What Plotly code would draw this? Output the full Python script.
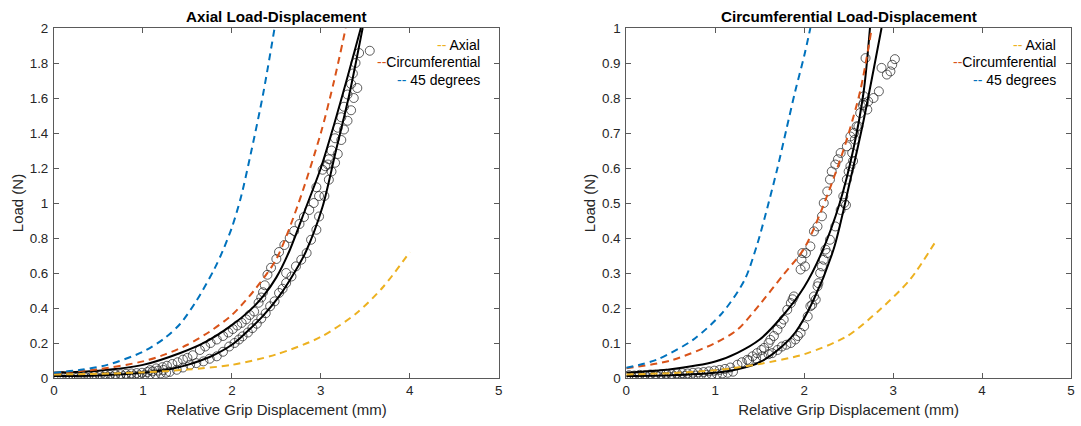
import plotly.graph_objects as go

# ---------------- Axial test (left panel) ----------------
ax_axial_x = [0, 0.5, 1.0, 1.5, 2.0, 2.5, 3.0, 3.4, 3.7, 4.0]
ax_axial_y = [0.02, 0.024, 0.032, 0.048, 0.075, 0.135, 0.235, 0.37, 0.52, 0.72]

ax_circ_x = [0, 0.5, 1.0, 1.25, 1.5, 1.75, 2.0, 2.25, 2.5, 2.75, 3.0, 3.15, 3.28]
ax_circ_y = [0.03, 0.05, 0.095, 0.135, 0.19, 0.265, 0.36, 0.5, 0.68, 1.0, 1.4, 1.7, 2.0]

ax_45_x = [0, 0.3, 0.6, 1.0, 1.25, 1.42, 1.6, 1.8, 1.9, 2.0, 2.1, 2.22, 2.35, 2.48]
ax_45_y = [0.03, 0.047, 0.075, 0.15, 0.23, 0.31, 0.44, 0.62, 0.73, 0.86, 1.03, 1.3, 1.62, 2.0]

ax_fitA_x = [0, 0.5, 1.0, 1.42, 1.7, 1.98, 2.2, 2.35, 2.5, 2.65, 2.83, 3.0, 3.15, 3.3, 3.45]
ax_fitA_y = [0.03, 0.042, 0.075, 0.143, 0.205, 0.295, 0.385, 0.466, 0.575, 0.73, 0.97, 1.2, 1.45, 1.72, 2.0]

ax_fitB_x = [0, 0.5, 1.0, 1.3, 1.5, 1.75, 2.0, 2.16, 2.35, 2.53, 2.7, 2.83, 3.02, 3.17, 3.32, 3.47]
ax_fitB_y = [0.012, 0.015, 0.03, 0.05, 0.075, 0.12, 0.19, 0.26, 0.355, 0.466, 0.6, 0.72, 0.98, 1.3, 1.62, 2.0]

ax_band_x = [0.05, 0.12, 0.18, 0.25, 0.3, 0.36, 0.42, 0.48, 0.55, 0.6, 0.66, 0.72, 0.78,
             0.84, 0.9, 0.96, 1.02, 1.08, 1.14, 1.2, 1.26,
             0.09, 0.16, 0.22, 0.28, 0.33, 0.39, 0.45, 0.52, 0.58, 0.63, 0.69, 0.75, 0.81,
             0.87, 0.93, 0.99, 1.05, 1.11, 1.17, 1.23]
ax_band_y = [0.005, 0.003, 0.002, 0.003, 0.004, 0.004, 0.005, 0.005, 0.006, 0.007, 0.008,
             0.009, 0.01, 0.012, 0.013, 0.015, 0.017, 0.02, 0.022, 0.026, 0.03,
             0.012, 0.01, 0.009, 0.011, 0.012, 0.013, 0.014, 0.016, 0.017, 0.018, 0.02,
             0.022, 0.024, 0.026, 0.028, 0.03, 0.034, 0.038, 0.042, 0.046]

ax_up_x = [1.08, 1.15, 1.22, 1.27, 1.33, 1.39, 1.45, 1.5, 1.56, 1.64, 1.7, 1.76, 1.83,
           1.9, 1.96, 2.01, 2.06, 2.11, 2.16, 2.2, 2.25, 2.3, 2.33, 2.35, 2.37, 2.4,
           2.44, 2.5, 2.53, 2.59, 2.65, 2.7, 2.76, 2.81, 2.87, 2.92, 2.95, 2.98, 3.02,
           3.05, 3.08, 3.09, 3.12, 3.16, 3.19, 3.23, 3.26, 3.3, 3.34, 3.36, 3.39, 3.43,
           3.55]
ax_up_y = [0.045, 0.055, 0.062, 0.07, 0.08, 0.09, 0.105, 0.115, 0.13, 0.16, 0.18, 0.2,
           0.22, 0.24, 0.26, 0.28, 0.3, 0.315, 0.335, 0.36, 0.38, 0.43, 0.46, 0.49, 0.53,
           0.59, 0.63, 0.68, 0.72, 0.76, 0.8, 0.84, 0.88, 0.92, 0.96, 1.0, 1.09, 1.04,
           1.19, 1.21, 1.22, 1.25, 1.3, 1.37, 1.43, 1.49, 1.55, 1.62, 1.68, 1.74, 1.8,
           1.857, 1.87]

ax_dn_x = [1.3, 1.38, 1.45, 1.53, 1.6, 1.68, 1.75, 1.83, 1.9, 1.97, 2.03, 2.08, 2.12,
           2.18, 2.23, 2.28, 2.33, 2.38, 2.43, 2.48, 2.53, 2.57, 2.61, 2.61, 2.67, 2.72,
           2.78, 2.84, 2.89, 2.95, 2.98, 3.04, 3.09, 3.12, 3.16, 3.19, 3.23, 3.26, 3.3,
           3.34, 3.37, 3.41]
ax_dn_y = [0.035, 0.047, 0.06, 0.076, 0.085, 0.095, 0.11, 0.124, 0.15, 0.18, 0.2, 0.22,
           0.238, 0.26, 0.285, 0.31, 0.34, 0.37, 0.41, 0.438, 0.486, 0.51, 0.543, 0.6,
           0.58, 0.638, 0.676, 0.714, 0.79, 0.847, 0.923, 1.04, 1.133, 1.18, 1.23, 1.28,
           1.36, 1.42, 1.47, 1.53, 1.6, 1.657]

# ---------------- Circumferential test (right panel) ----------------
ci_axial_x = [0, 0.5, 1.0, 1.25, 1.5, 2.0, 2.48, 2.85, 3.19, 3.49]
ci_axial_y = [0.01, 0.014, 0.022, 0.03, 0.04, 0.068, 0.119, 0.195, 0.281, 0.395]

ci_circ_x = [0, 0.5, 1.0, 1.25, 1.5, 1.75, 2.0, 2.18, 2.44, 2.63, 2.76]
ci_circ_y = [0.028, 0.05, 0.1, 0.138, 0.21, 0.29, 0.37, 0.47, 0.65, 0.82, 1.0]

ci_45_x = [0, 0.34, 0.75, 1.08, 1.33, 1.47, 1.6, 1.7, 1.8, 1.9, 2.0, 2.07]
ci_45_y = [0.029, 0.052, 0.109, 0.186, 0.28, 0.38, 0.5, 0.6, 0.71, 0.82, 0.92, 1.0]

ci_fitA_x = [0, 0.5, 1.0, 1.25, 1.5, 1.75, 2.0, 2.2, 2.4, 2.55, 2.67, 2.74]
ci_fitA_y = [0.015, 0.025, 0.047, 0.072, 0.11, 0.175, 0.26, 0.36, 0.5, 0.65, 0.82, 1.0]

ci_fitB_x = [0, 0.5, 1.0, 1.25, 1.5, 1.75, 1.9, 2.1, 2.33, 2.52, 2.67, 2.78, 2.87]
ci_fitB_y = [0.006, 0.008, 0.015, 0.025, 0.045, 0.09, 0.13, 0.22, 0.367, 0.567, 0.738, 0.88, 1.0]

ci_band_x = [0.0, 0.06, 0.12, 0.18, 0.24, 0.3, 0.36, 0.42, 0.48, 0.54, 0.6, 0.66, 0.72,
             0.78, 0.84, 0.9, 0.96, 1.02, 1.08, 1.14, 1.2,
             0.03, 0.09, 0.15, 0.21, 0.27, 0.33, 0.39, 0.45, 0.51, 0.57, 0.63, 0.69, 0.75,
             0.81, 0.87, 0.93, 0.99, 1.05, 1.11, 1.17]
ci_band_y = [0.004, 0.003, 0.002, 0.003, 0.002, 0.003, 0.004, 0.003, 0.004, 0.005, 0.005,
             0.006, 0.006, 0.007, 0.008, 0.009, 0.01, 0.011, 0.013, 0.015, 0.018,
             0.008, 0.007, 0.009, 0.008, 0.01, 0.009, 0.011, 0.012, 0.011, 0.013, 0.014,
             0.013, 0.015, 0.016, 0.017, 0.019, 0.021, 0.023, 0.026, 0.03]

ci_up_x = [1.25, 1.3, 1.36, 1.42, 1.47, 1.52, 1.55, 1.6, 1.62, 1.66, 1.7, 1.74, 1.77,
           1.81, 1.85, 1.87, 1.885, 1.96, 1.97, 1.98, 2.01, 2.02, 2.07, 2.11, 2.15, 2.2,
           2.22, 2.26, 2.29, 2.31, 2.35, 2.38, 2.41, 2.48, 2.52, 2.56, 2.59, 2.66, 2.67,
           2.69, 2.71, 2.72, 2.78, 2.84, 2.87, 2.93, 2.97, 2.99, 3.02]
ci_up_y = [0.038, 0.045, 0.052, 0.062, 0.071, 0.08, 0.086, 0.1, 0.109, 0.12, 0.138,
           0.155, 0.167, 0.195, 0.214, 0.225, 0.233, 0.31, 0.338, 0.357, 0.319, 0.357,
           0.376, 0.419, 0.433, 0.462, 0.5, 0.533, 0.567, 0.59, 0.61, 0.625, 0.643,
           0.662, 0.69, 0.7, 0.719, 0.78, 0.805, 0.914, 0.767, 0.79, 0.8, 0.819, 0.886,
           0.867, 0.876, 0.895, 0.911]

ci_dn_x = [1.38, 1.46, 1.53, 1.6, 1.64, 1.7, 1.75, 1.8, 1.85, 1.9, 1.93, 1.96, 2.0,
           2.04, 2.07, 2.09, 2.11, 2.13, 2.15, 2.16, 2.18, 2.2, 2.22, 2.24, 2.26, 2.29,
           2.35, 2.41, 2.44, 2.45, 2.47, 2.48, 2.5, 2.52, 2.54, 2.55, 2.57, 2.61, 2.63,
           2.67]
ci_dn_y = [0.05, 0.056, 0.062, 0.068, 0.071, 0.08, 0.09, 0.095, 0.1, 0.11, 0.12, 0.129,
           0.148, 0.176, 0.205, 0.209, 0.233, 0.224, 0.262, 0.271, 0.3, 0.319, 0.338,
           0.367, 0.357, 0.395, 0.433, 0.48, 0.519, 0.5, 0.494, 0.567, 0.59, 0.605,
           0.643, 0.62, 0.681, 0.719, 0.757, 0.786]

legend_names = ["Axial", "Circumferential", "45 degrees"]
C_AXIAL, C_CIRC, C_45 = "#EDB120", "#D95319", "#0072BD"
FONT = "Liberation Sans, Arial, sans-serif"
AXC = "#262626"

fig = go.Figure()


def dashed(x, y, color, xa, ya):
    fig.add_trace(go.Scatter(x=x, y=y, mode="lines",
                             line=dict(color=color, width=2, dash="7px,5px", shape="spline", smoothing=0.8),
                             xaxis=xa, yaxis=ya, showlegend=False, hoverinfo="skip"))


def fit(x, y, xa, ya):
    fig.add_trace(go.Scatter(x=x, y=y, mode="lines",
                             line=dict(color="black", width=2, shape="spline", smoothing=0.8),
                             xaxis=xa, yaxis=ya, showlegend=False, hoverinfo="skip"))


def circles(x, y, xa, ya):
    fig.add_trace(go.Scatter(x=x, y=y, mode="markers",
                             marker=dict(symbol="circle-open", size=9, color="rgba(30,30,30,0.8)",
                                         line=dict(width=0.9)),
                             xaxis=xa, yaxis=ya, showlegend=False, hoverinfo="skip"))


panels = [
    ("x", "y", (ax_axial_x, ax_axial_y), (ax_circ_x, ax_circ_y), (ax_45_x, ax_45_y),
     (ax_fitA_x, ax_fitA_y), (ax_fitB_x, ax_fitB_y),
     [(ax_band_x, ax_band_y), (ax_up_x, ax_up_y), (ax_dn_x, ax_dn_y)]),
    ("x2", "y2", (ci_axial_x, ci_axial_y), (ci_circ_x, ci_circ_y), (ci_45_x, ci_45_y),
     (ci_fitA_x, ci_fitA_y), (ci_fitB_x, ci_fitB_y),
     [(ci_band_x, ci_band_y), (ci_up_x, ci_up_y), (ci_dn_x, ci_dn_y)]),
]

for xa, ya, A, Cc, F45, FA, FB, pts in panels:
    for px, py in pts:
        circles(px, py, xa, ya)
    fit(*FA, xa, ya)
    fit(*FB, xa, ya)
    dashed(*A, C_AXIAL, xa, ya)
    dashed(*Cc, C_CIRC, xa, ya)
    dashed(*F45, C_45, xa, ya)

axis_common = dict(showline=True, linecolor="#5a5a5a", linewidth=1, mirror="ticks", ticks="inside",
                   ticklen=5, tickwidth=1, tickcolor="#5a5a5a", showgrid=False, zeroline=False,
                   tickfont=dict(family=FONT, size=13.4, color=AXC))
title_font = dict(family=FONT, size=15, color=AXC)

fig.update_layout(
    width=1081, height=426,
    margin=dict(l=53.6, r=6, t=28, b=47.7),
    paper_bgcolor="white", plot_bgcolor="white",
    xaxis=dict(domain=[0, 0.4373], range=[0, 5], dtick=1, anchor="y",
               title=dict(text="Relative Grip Displacement (mm)", font=title_font, standoff=7),
               **axis_common),
    yaxis=dict(domain=[0, 1], range=[0, 2], dtick=0.2, anchor="x",
               title=dict(text="Load (N)", font=title_font, standoff=2),
               ticklabelstandoff=2, **axis_common),
    xaxis2=dict(domain=[0.5627, 1], range=[0, 5], dtick=1, anchor="y2",
                title=dict(text="Relative Grip Displacement (mm)", font=title_font, standoff=7),
                **axis_common),
    yaxis2=dict(domain=[0, 1], range=[0, 1], dtick=0.1, anchor="x2",
                title=dict(text="Load (N)", font=title_font, standoff=2),
                ticklabelstandoff=2, **axis_common),
)

# panel titles
for xc, txt in [(0.2186, "Axial Load-Displacement"), (0.7813, "Circumferential Load-Displacement")]:
    fig.add_annotation(x=xc, y=1, xref="paper", yref="paper", xanchor="center", yanchor="bottom",
                       text=f"<b>{txt}</b>", showarrow=False, yshift=1,
                       font=dict(family=FONT, size=15.2, color="black"))

# legends: right-aligned entries with dashed samples
legend_right = [(483.4 - 53.6) / 1021.4, (1062.2 - 53.6) / 1021.4]
legend_rows = [1 - (45.1 - 28) / 350.3, 1 - (62.4 - 28) / 350.3, 1 - (79.6 - 28) / 350.3]
for xr in legend_right:
    for name, col, yy in zip(legend_names, [C_AXIAL, C_CIRC, C_45], legend_rows):
        gap = "" if name == "Circumferential" else " "
        fig.add_annotation(x=xr, y=yy, xref="paper", yref="paper", xanchor="right", yanchor="middle",
                           text=f"<span style='color:{col}'>--</span>{gap}{name}", showarrow=False,
                           font=dict(family=FONT, size=14, color="black"))

fig.write_html("out.html")
